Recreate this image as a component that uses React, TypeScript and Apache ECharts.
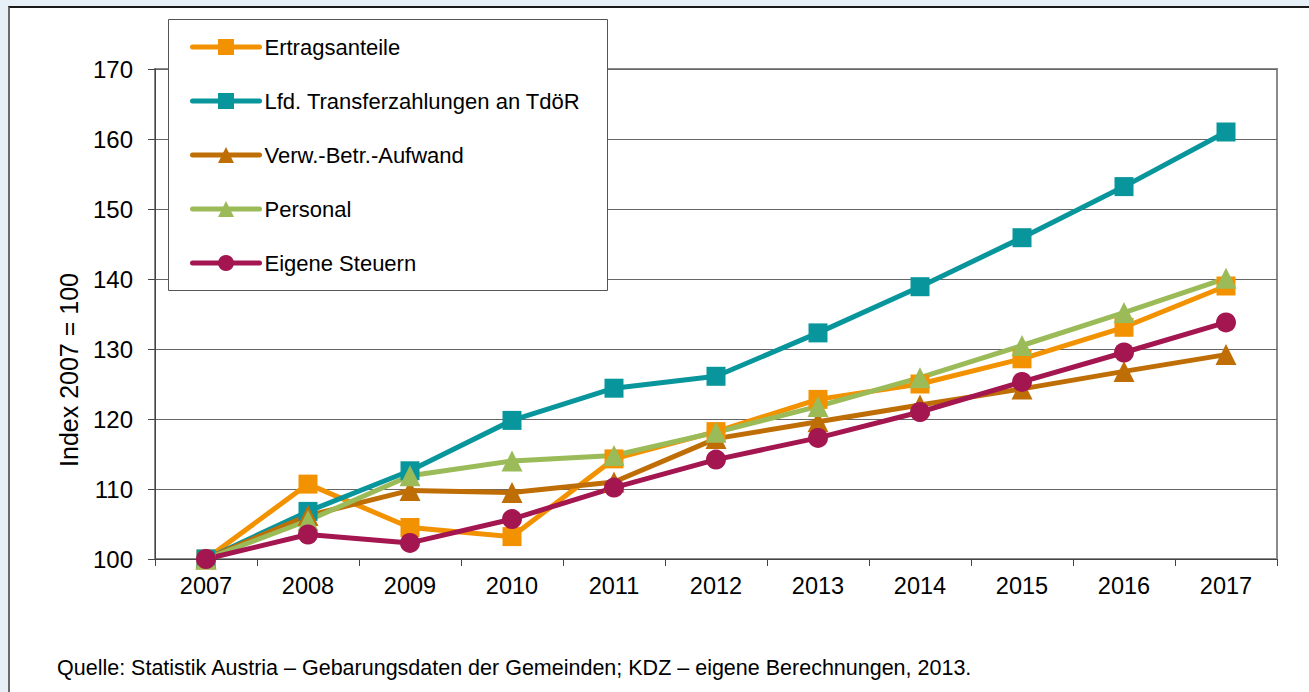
import React, { useEffect, useRef } from "react";
import * as echarts from "echarts";

const categories = ["2007", "2008", "2009", "2010", "2011", "2012", "2013", "2014", "2015", "2016", "2017"];
const ertragsanteile = [100, 110.7, 104.5, 103.2, 114.3, 118.2, 122.8, 125.0, 128.6, 133.1, 139.0];
const transfer = [100, 106.8, 112.6, 119.8, 124.4, 126.1, 132.3, 138.9, 145.9, 153.2, 161.0];
const verw = [100, 106.2, 109.8, 109.5, 111.0, 117.2, 119.6, 122.0, 124.3, 126.8, 129.2];
const personal = [100, 105.5, 111.9, 114.0, 114.8, 118.1, 121.8, 125.9, 130.5, 135.2, 140.1];
const eigeneSteuern = [100, 103.5, 102.3, 105.7, 110.2, 114.2, 117.3, 121.0, 125.3, 129.5, 133.8];
const yTicks = [100, 110, 120, 130, 140, 150, 160, 170];

const FONT = "'Liberation Sans', Arial, sans-serif";

export default function App() {
  const ref = useRef<HTMLDivElement>(null);
  useEffect(() => {
    if (!ref.current) return;
    const chart = echarts.init(ref.current, null, { renderer: "svg" });
    const mk = (name: string, data: number[], color: string, symbol: string, size: number) => ({
      name,
      type: "line",
      data,
      symbol,
      symbolSize: size,
      lineStyle: { color, width: 5 },
      itemStyle: { color },
      z: 2,
    });
    chart.setOption({
      animation: false,
      textStyle: { fontFamily: FONT },
      grid: {
        left: 155,
        top: 69,
        right: 32,
        bottom: 133,
        show: true,
        borderColor: "#8a8a8a",
        borderWidth: 2,
        backgroundColor: "transparent",
      },
      xAxis: {
        type: "category",
        data: categories,
        boundaryGap: true,
        axisLine: { lineStyle: { color: "#444", width: 1 } },
        axisTick: { show: true, length: 7, lineStyle: { color: "#444" } },
        axisLabel: { color: "#000", fontSize: 23.5, margin: 15, fontFamily: FONT },
      },
      yAxis: {
        type: "value",
        min: yTicks[0],
        max: yTicks[yTicks.length - 1],
        interval: 10,
        axisLine: { show: true, lineStyle: { color: "#444", width: 1 } },
        axisTick: { show: true, length: 7, lineStyle: { color: "#444" } },
        axisLabel: { color: "#000", fontSize: 24, margin: 22, fontFamily: FONT },
        splitLine: { show: true, lineStyle: { color: "#666", width: 1 } },
      },
      legend: {
        orient: "vertical",
        left: 190,
        top: 36,
        padding: 0,
        itemWidth: 67,
        itemHeight: 20,
        itemGap: 32,
        lineStyle: { width: 5, cap: "round" },
        textStyle: { fontSize: 22, color: "#000", fontFamily: FONT, lineHeight: 22 },
        data: ["Ertragsanteile", "Lfd. Transferzahlungen an TdöR", "Verw.-Betr.-Aufwand", "Personal", "Eigene Steuern"],
        z: 10,
      },
      graphic: [
        {
          type: "rect",
          shape: { x: 168.5, y: 19.5, width: 439, height: 271 },
          style: { fill: "#fff", stroke: "#555", lineWidth: 1 },
          z: 5,
        },
        {
          type: "text",
          x: 69,
          y: 370,
          rotation: Math.PI / 2,
          style: {
            text: "Index 2007 = 100",
            fill: "#000",
            fontSize: 25,
            fontFamily: FONT,
            align: "center",
            verticalAlign: "middle",
          },
        },
        {
          type: "text",
          x: 57,
          y: 668,
          style: {
            text: "Quelle: Statistik Austria – Gebarungsdaten der Gemeinden; KDZ – eigene Berechnungen, 2013.",
            fill: "#000",
            fontSize: 21.5,
            fontFamily: FONT,
            align: "left",
            verticalAlign: "middle",
          },
        },
      ],
      series: [
        mk("Ertragsanteile", ertragsanteile, "#F39200", "rect", 19),
        mk("Lfd. Transferzahlungen an TdöR", transfer, "#08969C", "rect", 19),
        mk("Verw.-Betr.-Aufwand", verw, "#BF6E06", "triangle", 21),
        mk("Personal", personal, "#9BBB59", "triangle", 21),
        mk("Eigene Steuern", eigeneSteuern, "#A31650", "circle", 20),
      ],
    });
    return () => chart.dispose();
  }, []);

  return (
    <div style={{ position: "fixed", left: 0, top: 0, width: 1309, height: 692, background: "#e6f0f6", overflow: "hidden" }}>
      <div
        style={{
          position: "absolute",
          left: 8,
          top: 6,
          width: 1309,
          height: 700,
          background: "#fff",
          borderTop: "2px solid #1a1a1a",
          borderLeft: "2px solid #6a6a6a",
        }}
      />
      <div ref={ref} style={{ position: "absolute", left: 0, top: 0, width: 1309, height: 692 }} />
    </div>
  );
}
